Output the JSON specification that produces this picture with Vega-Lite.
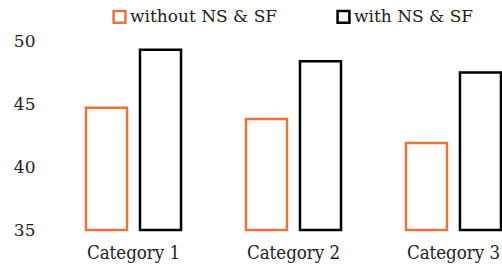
{
  "$schema": "https://vega.github.io/schema/vega-lite/v6.json",
  "width": 415,
  "height": 189,
  "autosize": "none",
  "padding": {"left": 86, "top": 41, "right": 1, "bottom": 40},
  "background": "white",
  "data": {
    "values": [
      {"category": "Category 1", "series": "without NS & SF", "value": 44.7},
      {"category": "Category 1", "series": "with NS & SF", "value": 49.3},
      {"category": "Category 2", "series": "without NS & SF", "value": 43.8},
      {"category": "Category 2", "series": "with NS & SF", "value": 48.4},
      {"category": "Category 3", "series": "without NS & SF", "value": 41.9},
      {"category": "Category 3", "series": "with NS & SF", "value": 47.5}
    ]
  },
  "mark": {"type": "bar", "fill": "white", "strokeWidth": 2.5, "clip": false},
  "encoding": {
    "x": {
      "field": "category",
      "type": "nominal",
      "scale": {"paddingInner": 0.406, "paddingOuter": 0},
      "axis": {"title": null, "labelAngle": 0, "domain": false, "ticks": false, "tickSize": 0, "labelPadding": 13, "labelFontSize": 18.5, "labelColor": "#222", "grid": false, "labelFont": "DejaVu Serif Condensed"}
    },
    "xOffset": {
      "field": "series",
      "type": "nominal",
      "sort": ["without NS & SF", "with NS & SF"],
      "scale": {"paddingInner": 0.24, "paddingOuter": 0}
    },
    "y": {
      "field": "value",
      "type": "quantitative",
      "stack": null,
      "scale": {"domain": [35, 50], "zero": false, "nice": false},
      "axis": {"title": null, "values": [35, 40, 45, 50], "domain": false, "ticks": false, "tickSize": 0, "grid": false, "labelPadding": 51, "labelFontSize": 17, "labelColor": "#222", "labelFont": "DejaVu Serif"}
    },
    "y2": {"datum": 35},
    "stroke": {
      "field": "series",
      "type": "nominal",
      "sort": ["without NS & SF", "with NS & SF"],
      "scale": {"domain": ["without NS & SF", "with NS & SF"], "range": ["#E8743B", "#000000"]},
      "legend": {
        "title": null,
        "orient": "none",
        "direction": "horizontal",
        "legendX": 25,
        "legendY": -33,
        "symbolType": "square",
        "symbolSize": 140,
        "symbolStrokeWidth": 2.5,
        "symbolFillColor": "white",
        "labelFontSize": 17,
        "labelColor": "#222",
        "labelOffset": 2,
        "columnPadding": 54,
        "symbolOffset": 0,
        "labelFont": "DejaVu Serif"
      }
    }
  },
  "config": {
    "view": {"stroke": null}
  }
}
